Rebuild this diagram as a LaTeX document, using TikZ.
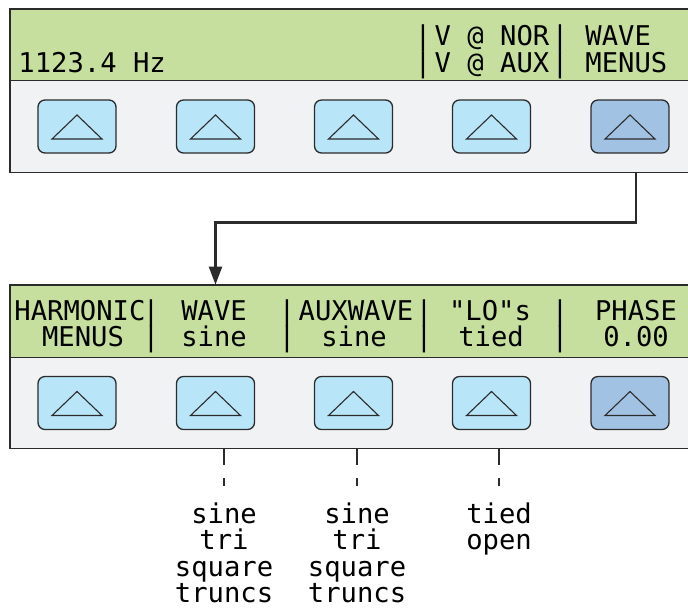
\documentclass[tikz,border=0pt]{standalone}
\usepackage{fontspec}
\newfontfamily\lcdfont[Ligatures=ResetAll]{DejaVu Sans Mono}
\usetikzlibrary{arrows.meta,calc,positioning}
\usepackage{xcolor}

\definecolor{lcdgreen}{HTML}{C6DF9E}
\definecolor{panelgray}{HTML}{F1F2F4}
\definecolor{keyblue}{HTML}{B9E5F8}
\definecolor{keyactive}{HTML}{A2C2E4}
\definecolor{edge}{HTML}{2B2B2B}

\begin{document}
\begin{tikzpicture}[x=0.5pt, y=-0.5pt, >={Triangle[width=6.5pt,length=9pt]},
  key/.style={draw=edge, line width=0.65pt, rounded corners=3.5pt, fill=keyblue,
    minimum width=39pt, minimum height=26.5pt, inner sep=0pt},
  keyon/.style={key, fill=keyactive},
  strip/.style={inner sep=0pt, minimum width=339pt},
  lcd/.style={font=\lcdfont\fontsize{13.6}{13.5}\selectfont, inner sep=0pt, anchor=base},
  leader/.style={draw=edge, line width=0.6pt, dash pattern=on 8.5pt off 6.5pt}]
  \useasboundingbox (0,0) rectangle (688,607);

  % top panel
  \node[strip, fill=lcdgreen, minimum height=35.5pt] (lcdA) at (349,44.5) {};
  \node[strip, fill=panelgray, minimum height=46pt] (frontA) at (349,126) {};
  \draw[edge, line width=0.9pt] (lcdA.north east) -- (lcdA.north west) -- (frontA.south west) -- (frontA.south east);
  \draw[edge, line width=0.9pt] (lcdA.south west) -- (lcdA.south east);

  \node[lcd, anchor=base west] (freq) at (18,72) {1123.4 Hz};
  \node[lcd] (vnor) at (492,45) {V @ NOR};
  \node[lcd] (vaux) at (492,72) {V @ AUX};
  \node[lcd] (barA1) at (423,45) {|};
  \node[lcd] (barA2) at (423,72) {|};
  \node[lcd] (barA3) at (560,45) {|};
  \node[lcd] (barA4) at (560,72) {|};
  \node[lcd, anchor=base west] (wave) at (585,45) {WAVE};
  \node[lcd, anchor=base west] (menus) at (585,72) {MENUS};

  \node[key] (a1) at (77,126.5) {};
  \node[key] (a2) at (215.5,126.5) {};
  \node[key] (a3) at (353.5,126.5) {};
  \node[key] (a4) at (491.5,126.5) {};
  \node[keyon] (a5) at (630,126.5) {};

  % bottom panel
  \node[strip, fill=lcdgreen, minimum height=36pt] (lcdB) at (349,321) {};
  \node[strip, fill=panelgray, minimum height=45.5pt] (frontB) at (349,402.5) {};
  \draw[edge, line width=0.9pt] (lcdB.north east) -- (lcdB.north west) -- (frontB.south west) -- (frontB.south east);
  \draw[edge, line width=0.9pt] (lcdB.south west) -- (lcdB.south east);

  \node[lcd] (harm) at (80,320) {HARMONIC};
  \node[lcd] (hmenus) at (83,346.5) {MENUS};
  \node[lcd] (wavB) at (214,320) {WAVE};
  \node[lcd] (wavsine) at (214,346.5) {sine};
  \node[lcd] (aux) at (356,320) {AUXWAVE};
  \node[lcd] (auxsine) at (354,346.5) {sine};
  \node[lcd] (lo) at (490,320) {"LO"s};
  \node[lcd] (lotied) at (491,346.5) {tied};
  \node[lcd] (phase) at (636,320) {PHASE};
  \node[lcd] (phval) at (636,346.5) {0.00};
  \foreach \x [count=\i] in {151,287,424,560} {
    \node[lcd] (barB\i a) at (\x,320) {|};
    \node[lcd] (barB\i b) at (\x,346.5) {|};
  }

  \node[key] (b1) at (77,403) {};
  \node[key] (b2) at (215.5,403) {};
  \node[key] (b3) at (353.5,403) {};
  \node[key] (b4) at (491.5,403) {};
  \node[keyon] (b5) at (630,403) {};

  % arrow marks on the keys
  \foreach \k in {a1,a2,a3,a4,a5,b1,b2,b3,b4,b5}
    \draw[edge, line width=0.55pt] ($(\k)+(-25,12.5)$) -- ($(\k)+(0,-11.5)$) -- ($(\k)+(25,12.5)$) -- cycle;

  % WAVE MENUS opens the second menu
  \draw[->, edge, line width=1.15pt] ($(frontA.south -| a5)+(6,0)$) -- ++(0,50) -| (lcdB.north -| b2);

  % choices
  \foreach \w [count=\i] in {sine,tri,square,truncs}
    \node[lcd, name=sa\i] at (224,496.5+26.6*\i) {\w};
  \foreach \w [count=\i] in {sine,tri,square,truncs}
    \node[lcd, name=sb\i] at (357,496.5+26.6*\i) {\w};
  \foreach \w [count=\i] in {tied,open}
    \node[lcd, name=sc\i] at (499,496.5+26.6*\i) {\w};

  \draw[leader] (frontB.south -| sa1) -- ($(sa1.north)+(0,-16)$);
  \draw[leader] (frontB.south -| sb1) -- ($(sb1.north)+(0,-16)$);
  \draw[leader] (frontB.south -| sc1) -- ($(sc1.north)+(0,-16)$);
\end{tikzpicture}
\end{document}
